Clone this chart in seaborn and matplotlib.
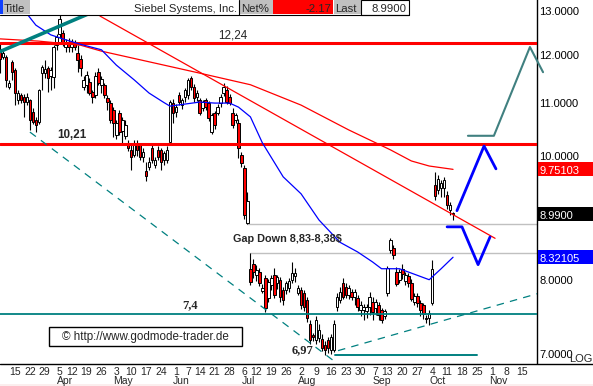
import numpy as np
import pandas as pd
import matplotlib
matplotlib.use("Agg")
import matplotlib.pyplot as plt
from matplotlib.patches import Rectangle
from matplotlib.lines import Line2D
from matplotlib.ticker import NullLocator
import seaborn as sns

# ---------------- data ----------------
start_date = "2004-03-08"
holidays = ["2004-04-09", "2004-05-31", "2004-06-11", "2004-07-05",
            "2004-09-06", "2004-11-25"]

opens = [12.12, 11.95, 11.94, 11.31, 11.84, 11.67, 11.05, 11.15, 11.11, 11.01,
         11.05, 10.81, 10.66, 10.62, 11.60, 11.60, 11.70, 11.54, 11.52, 12.20,
         12.45, 12.47, 12.15, 12.28, 12.15, 12.28, 12.03, 11.90, 11.31, 11.36,
         11.42, 11.21, 11.15, 11.62, 11.35, 11.35, 11.10, 10.99, 10.85, 10.37,
         10.80, 10.45, 10.35, 10.23, 10.10, 10.00, 10.19, 10.19, 9.97, 9.72,
         9.79, 10.13, 9.83, 10.10, 10.10, 9.92, 9.92, 10.24, 10.99, 10.82,
         11.15, 10.95, 11.11, 11.15, 11.50, 11.31, 11.11, 11.05, 10.90, 11.05,
         10.99, 10.43, 10.80, 10.80, 10.99, 11.19, 11.25, 11.11, 10.80, 10.66,
         10.60, 10.01, 9.77, 8.85, 8.15, 8.22, 8.06, 8.10, 7.83, 8.01,
         7.73, 7.91, 8.06, 7.94, 7.99, 7.84, 7.84, 7.87, 7.99, 8.04,
         7.80, 7.84, 7.80, 7.70, 7.38, 7.23, 7.17, 7.19, 7.18, 7.10,
         7.17, 7.04, 7.04, 7.61, 7.70, 7.94, 7.88, 7.77, 7.82, 7.75,
         7.73, 7.56, 7.57, 7.55, 7.61, 7.67, 7.59, 7.63, 7.56, 7.48,
         7.80, 8.43, 8.46, 8.10, 7.99, 8.15, 7.97, 8.04, 7.94, 7.68,
         7.76, 7.66, 7.63, 7.46, 7.45, 7.66, 9.48, 9.40, 9.42, 9.42,
         9.31, 9.06, 9.01]
highs = [12.25, 12.08, 11.98, 11.45, 11.88, 11.70, 11.25, 11.20, 11.18, 11.20,
         11.08, 10.90, 10.72, 11.28, 11.78, 11.88, 11.75, 11.72, 12.20, 12.45,
         12.88, 12.55, 12.33, 12.36, 12.33, 12.31, 12.20, 11.98, 11.55, 11.65,
         11.50, 11.25, 11.62, 11.70, 11.55, 11.40, 11.15, 11.05, 10.92, 10.66,
         10.85, 10.72, 10.66, 10.28, 10.18, 10.28, 10.28, 10.23, 10.13, 9.88,
         9.97, 10.19, 9.97, 10.17, 10.13, 10.08, 10.17, 11.06, 11.08, 10.97,
         11.22, 11.10, 11.30, 11.50, 11.54, 11.38, 11.25, 11.09, 11.06, 11.10,
         11.03, 10.79, 10.84, 10.97, 11.17, 11.40, 11.33, 11.18, 10.89, 10.80,
         10.68, 10.07, 9.82, 9.36, 8.38, 8.30, 8.20, 8.16, 7.93, 8.06,
         8.00, 8.06, 8.16, 8.06, 8.03, 7.89, 7.97, 8.01, 8.25, 8.16,
         7.91, 7.89, 7.84, 7.74, 7.43, 7.26, 7.48, 7.38, 7.24, 7.15,
         7.20, 7.24, 7.43, 7.80, 7.88, 8.01, 7.94, 7.91, 7.86, 7.86,
         7.77, 7.69, 7.65, 7.65, 7.81, 7.74, 7.71, 7.67, 7.59, 7.58,
         8.19, 8.62, 8.50, 8.18, 8.15, 8.22, 8.10, 8.09, 8.00, 7.80,
         7.80, 7.70, 7.66, 7.50, 7.57, 8.28, 9.70, 9.65, 9.57, 9.62,
         9.38, 9.20, 9.03]
lows = [11.60, 11.90, 11.31, 11.27, 11.46, 10.95, 10.98, 11.00, 10.72, 10.95,
        10.47, 10.58, 10.43, 10.58, 11.25, 11.50, 11.21, 11.25, 11.30, 12.10,
        12.35, 12.18, 12.05, 12.05, 12.05, 12.10, 11.62, 11.55, 11.25, 11.20,
        11.15, 11.00, 11.10, 11.35, 11.20, 11.10, 10.85, 10.60, 10.34, 10.30,
        10.38, 10.19, 10.30, 10.08, 9.74, 9.97, 9.99, 9.92, 9.88, 9.55,
        9.74, 9.87, 9.77, 9.92, 9.74, 9.83, 9.87, 10.19, 10.60, 10.72,
        10.95, 10.88, 11.02, 11.08, 11.25, 11.02, 11.03, 10.76, 10.84, 10.86,
        10.64, 10.40, 10.48, 10.75, 10.92, 11.13, 10.97, 10.95, 10.50, 10.60,
        9.95, 9.80, 8.92, 8.83, 7.91, 8.02, 7.97, 7.90, 7.80, 7.54,
        7.68, 7.84, 7.73, 7.86, 7.68, 7.63, 7.79, 7.82, 7.94, 7.96,
        7.77, 7.58, 7.55, 7.40, 7.12, 7.15, 7.12, 7.14, 7.02, 6.97,
        7.00, 6.99, 7.01, 7.55, 7.66, 7.72, 7.73, 7.72, 7.70, 7.64,
        7.55, 7.49, 7.43, 7.45, 7.50, 7.43, 7.50, 7.43, 7.39, 7.44,
        7.76, 8.38, 8.30, 7.90, 7.94, 8.00, 7.92, 7.88, 7.69, 7.63,
        7.61, 7.49, 7.44, 7.39, 7.36, 7.63, 9.23, 9.33, 9.28, 9.28,
        9.08, 8.98, 8.90]
closes = [11.90, 12.03, 11.46, 11.39, 11.62, 11.19, 11.19, 11.05, 11.01, 11.11,
          10.66, 10.62, 10.56, 11.25, 11.73, 11.68, 11.50, 11.67, 12.16, 12.38,
          12.79, 12.25, 12.26, 12.15, 12.28, 12.17, 11.88, 11.70, 11.46, 11.56,
          11.19, 11.11, 11.55, 11.40, 11.48, 11.15, 11.02, 10.66, 10.60, 10.60,
          10.43, 10.66, 10.56, 10.13, 9.97, 10.19, 10.10, 9.97, 10.07, 9.63,
          9.88, 9.92, 9.92, 9.97, 9.88, 10.04, 10.10, 11.01, 10.80, 10.91,
          11.01, 11.05, 11.25, 11.46, 11.31, 11.09, 11.19, 10.79, 11.02, 10.91,
          10.70, 10.76, 10.56, 10.91, 11.11, 11.31, 11.01, 11.00, 10.56, 10.76,
          10.13, 9.86, 8.98, 9.21, 7.96, 8.10, 8.13, 7.94, 7.87, 7.59,
          7.96, 8.01, 7.77, 8.03, 7.74, 7.70, 7.94, 7.97, 8.09, 8.09,
          7.87, 7.63, 7.61, 7.46, 7.17, 7.21, 7.43, 7.30, 7.06, 7.04,
          7.06, 7.20, 7.38, 7.74, 7.82, 7.75, 7.77, 7.87, 7.75, 7.81,
          7.61, 7.63, 7.61, 7.60, 7.74, 7.54, 7.67, 7.50, 7.43, 7.55,
          8.16, 8.58, 8.36, 7.93, 8.10, 8.07, 8.06, 7.94, 7.72, 7.76,
          7.66, 7.56, 7.51, 7.44, 7.52, 8.15, 9.29, 9.59, 9.51, 9.57,
          9.15, 9.15, 8.99]

ma_red_idx = [0, 13, 27, 34, 50, 67, 84, 101, 117, 131, 138, 144, 152]
ma_red_val = [12.34, 12.29, 12.20, 12.07, 11.84, 11.60, 11.36, 10.95, 10.47,
              10.10, 9.90, 9.81, 9.75103]
ma_blue_idx = [6, 8, 12, 17, 22, 27, 34, 39, 45, 50, 55, 57, 62, 67, 72, 77, 80,
               84, 88, 95, 101, 107, 114, 120, 125, 128, 134, 139, 144, 148, 152]
ma_blue_val = [13.24, 13.0, 12.65, 12.43, 12.32, 12.22, 12.10, 11.77, 11.46,
               11.19, 11.00, 10.93, 10.97, 11.01, 10.99, 10.99, 10.91, 10.72,
               10.23, 9.62, 9.33, 8.90, 8.55, 8.40, 8.25, 8.15, 8.15, 8.07,
               7.99, 8.15, 8.32105]

resist_high = 12.24
resist_low = 10.21
support_line = 7.51
support_label = "7,4"
low_level = 6.97
gap_top = 8.83
gap_bottom = 8.38
last_price = 8.99
net_pct = "-2.17"

trend_red_idx = [33.5, 166.1]
trend_red_val = [12.86, 8.61]
teal_solid_idx = [-0.03, 40.6]
teal_solid_val = [12.06, 13.24]
teal_down_idx = [10.0, 112.4]
teal_down_val = [10.43, 6.89]
teal_up_idx = [113.4, 180.2]
teal_up_val = [7.03, 7.79]
low_line_idx = [112.4, 160.0]
blue_up_idx = [153.3, 162.4, 166.4]
blue_up_val = [9.05, 10.17, 9.76]
blue_v_idx = [150.0, 155.0, 160.4, 164.4]
blue_v_val = [8.79, 8.79, 8.21, 8.63]
teal_proj_idx = [157.0, 165.7, 177.8, 182.2]
teal_proj_val = [10.36, 10.36, 12.16, 11.62]

axis_values = [13.0, 12.0, 11.0, 10.0, 8.0, 7.0]

# ---------------- figure ----------------
sns.set_style("white")
plt.rcParams["font.family"] = ["Liberation Sans", "DejaVu Sans"]

W, H = 593, 386
fig = plt.figure(figsize=(W / 100, H / 100), dpi=100)
fig.patch.set_facecolor("white")
ax = fig.add_axes([0, (H - 363) / H, 537 / W, 363 / H])
ax.set_yscale("log")
ax.set_xlim(-0.03, 180.17)
ax.set_ylim(6.875, 13.237)
ax.set_xticks([])
ax.set_yticks([])
ax.yaxis.set_minor_locator(NullLocator())
ax.xaxis.set_minor_locator(NullLocator())
for s in ["top", "left", "bottom"]:
    ax.spines[s].set_visible(False)
ax.spines["right"].set_color("black")
ax.spines["right"].set_linewidth(1.0)


def fx(px):
    return px / W


def fy(py):
    return 1 - py / H


# candles
o = np.array(opens); h = np.array(highs); l = np.array(lows); c = np.array(closes)
idx = np.arange(len(c))
up = c >= o
ax.vlines(idx, l, h, color="black", lw=0.8, zorder=3)
bot = np.minimum(o, c)
top = np.maximum(o, c)
ax.bar(idx, top - bot, bottom=bot, width=0.85,
       color=np.where(up, "white", "#ff0000"), edgecolor="black",
       linewidth=0.7, zorder=4)

# horizontal levels
ax.axhline(resist_high, color="#ff0000", lw=2.2, zorder=6)
ax.axhline(resist_low, color="#ff0000", lw=2.2, zorder=6)
ax.axhline(support_line, color="#008080", lw=1.3, zorder=6)
ax.plot(low_line_idx, [low_level, low_level], color="#008080", lw=1.4, zorder=6)
ax.plot([83, 180.2], [gap_top, gap_top], color="#c0c0c0", lw=1.0, zorder=2)
ax.plot([84, 180.2], [gap_bottom, gap_bottom], color="#c0c0c0", lw=1.0, zorder=2)

# moving averages
sns.lineplot(x=ma_red_idx, y=ma_red_val, ax=ax, color="#ff0000", linewidth=0.9,
             sort=False, estimator=None, zorder=6)
sns.lineplot(x=ma_blue_idx, y=ma_blue_val, ax=ax, color="#0000ff", linewidth=0.9,
             sort=False, estimator=None, zorder=6)

# trend lines
ax.plot(trend_red_idx, trend_red_val, color="#ff0000", lw=0.9, zorder=6)
ax.plot(teal_solid_idx, teal_solid_val, color="#008080", lw=2.6, zorder=6)
ax.plot(teal_down_idx, teal_down_val, color="#008080", lw=0.9,
        linestyle=(0, (6, 5)), zorder=6)
ax.plot(teal_up_idx, teal_up_val, color="#008080", lw=0.9,
        linestyle=(0, (6, 5)), zorder=6)

# projections
ax.plot(blue_up_idx, blue_up_val, color="#0000ff", lw=2.0, zorder=7)
ax.plot(blue_v_idx, blue_v_val, color="#0000ff", lw=2.0, zorder=7)
ax.plot(teal_proj_idx, teal_proj_val, color="#408080", lw=1.5, zorder=7,
        clip_on=False)
ax.set_xlabel("")
ax.set_ylabel("")

fig.canvas.draw()


def ypix(v):
    return H - ax.transData.transform((0, v))[1]


# right axis labels
for v in axis_values:
    fig.text(fx(539), fy(ypix(v) + 4.5), f"{v:.4f}", fontsize=8, va="baseline",
             ha="left", color="black")
for v, fc in [(ma_red_val[-1], "#ff0000"), (last_price, "black"),
              (ma_blue_val[-1], "#0000ff")]:
    yp = ypix(v)
    fig.add_artist(Rectangle((fx(537.5), fy(yp + 7)), fx(593) - fx(537.5), 14 / H,
                             transform=fig.transFigure, facecolor=fc,
                             edgecolor="none", zorder=5))
    txt = f"{v:.5f}" if v != last_price else f"{v:.4f}"
    fig.text(fx(539), fy(yp + 4.5), txt, fontsize=8, va="baseline", ha="left",
             color="white", zorder=6)
fig.text(fx(569), fy(362), "LOG", fontsize=8, va="baseline", ha="left")

# date labels
dates = pd.bdate_range(start_date, "2004-12-31", freq="C", holidays=holidays)
ds = pd.Series(dates)
weeks = ds.groupby(ds.dt.isocalendar().week.values).first()
prev_month = None
for d in weeks:
    i = int(np.where(dates == d)[0][0])
    if i < 5 or i > 176:
        continue
    xpix = ax.transData.transform((i, 7))[0]
    fig.text(fx(xpix), fy(375), str(d.day), fontsize=7.5, ha="center",
             va="baseline")
    if prev_month is not None and d.month != prev_month:
        fig.text(fx(xpix - 3), fy(384), d.strftime("%b"), fontsize=7.5,
                 ha="left", va="baseline")
    prev_month = d.month

# bottom axis line across whole width
fig.add_artist(Line2D([0, 1], [fy(363.5), fy(363.5)], transform=fig.transFigure,
                      color="black", lw=1.0))
fig.add_artist(Rectangle((0, 0), 1, 2 / H, transform=fig.transFigure,
                         facecolor="#fbeeee", edgecolor="none"))

# annotations
fig.text(fx(233), fy(38.3), "12,24", fontsize=8.4, ha="center", va="baseline")
fig.text(fx(72), fy(138.3), "10,21", fontsize=8.4, ha="center", va="baseline",
         fontweight="bold")
fig.text(fx(233), fy(242), "Gap Down 8,83-8,38$", fontsize=7.8, ha="left",
         va="baseline", fontweight="bold")
fig.text(fx(190), fy(308), support_label, fontsize=9, ha="center", va="baseline",
         fontweight="bold", family=["Liberation Serif", "DejaVu Serif"])
fig.text(fx(303), fy(353), "6,97", fontsize=9, ha="center", va="baseline",
         fontweight="bold", family=["Liberation Serif", "DejaVu Serif"])
fig.add_artist(Rectangle((fx(49), fy(346)), fx(242) - fx(49), 19 / H,
                         transform=fig.transFigure, facecolor="white",
                         edgecolor="black", lw=1.0, zorder=8))
fig.text(fx(145.5), fy(340), "\u00a9 http://www.godmode-trader.de", fontsize=8.4,
         ha="center", va="baseline", zorder=9)


# title bar
def box(x0, y0, x1, y1, fc, ec="none", lw=0.0, z=10):
    fig.add_artist(Rectangle((fx(x0), fy(y1)), fx(x1) - fx(x0), (y1 - y0) / H,
                             transform=fig.transFigure, facecolor=fc,
                             edgecolor=ec, lw=lw, zorder=z))


box(0, 0, 409, 15, "white")
box(0, 0, 3, 14, "#1040ff")
box(3, 0, 30, 14, "#c0c0c0")
box(240, 0, 273, 14, "#c0c0c0")
box(273, 0, 333, 14, "#ff0000")
box(334, 0, 361, 14, "#c0c0c0")
box(361, 0, 409, 14.5, "white", ec="black", lw=0.8, z=11)
fig.add_artist(Line2D([fx(239), fx(239)], [fy(0), fy(14.5)], transform=fig.transFigure,
                      color="black", lw=0.8, zorder=11))
fig.add_artist(Line2D([0, fx(409)], [fy(14.5), fy(14.5)], transform=fig.transFigure,
                      color="black", lw=0.8, zorder=11))
fig.text(fx(4), fy(11.7), "Title", fontsize=8.2, ha="left", va="baseline", zorder=12)
fig.text(fx(237), fy(11.7), "Siebel Systems, Inc.", fontsize=8.2, ha="right",
         va="baseline", zorder=12)
fig.text(fx(241), fy(11.7), "Net%", fontsize=8.2, ha="left", va="baseline", zorder=12)
fig.text(fx(331), fy(11.7), net_pct, fontsize=8.2, ha="right", va="baseline",
         zorder=12)
fig.text(fx(335), fy(11.7), "Last", fontsize=8.2, ha="left", va="baseline", zorder=12)
fig.text(fx(406), fy(11.7), f"{last_price:.4f}", fontsize=8.2, ha="right",
         va="baseline", zorder=12)

fig.savefig("out.png", dpi=100, facecolor="white")
